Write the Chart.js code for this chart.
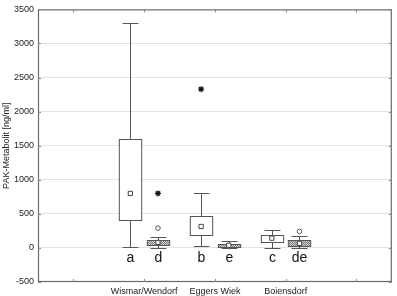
<!DOCTYPE html>
<html>
<head>
<meta charset="utf-8">
<script src="https://cdn.jsdelivr.net/npm/chart.js@4"></script>
<style>
  body { margin: 0; background: #fff; }
  canvas { display: block; }
</style>
</head>
<body>
<canvas id="boxChart" width="397" height="296"></canvas>
<script>
// sites along the x axis (slots 1 and 5 stay empty)
const groupLabels = ['Wismar/Wendorf', 'Eggers Wiek', 'Boiensdorf'];

// one entry per box, left box = plain, right box = hatched
const boxLetters = ['a', 'd', 'b', 'e', 'c', 'de'];
const boxGroup = [0, 0, 1, 1, 2, 2];
const boxHatched = [false, true, false, true, false, true];
const whiskerLow = [20, 0, 30, 0, 5, 0];
const q1 = [410, 43, 190, 14, 90, 34];
const q3 = [1600, 114, 463, 63, 186, 110];
const whiskerHigh = [3300, 165, 810, 100, 267, 181];
const means = [800, 80, 315, 39, 143, 67];

// outliers: box index + value
const circleBox = [1, 5];
const circleValue = [290, 243];
const starBox = [1, 2];
const starValue = [800, 2330];

const yTicks = [-500, 0, 500, 1000, 1500, 2000, 2500, 3000, 3500];

// x position of a box in axis units
function boxX(i) {
    return boxGroup[i] + 2 + (boxHatched[i] ? 0.195 : -0.195);
}

// grey checker pattern for the hatched boxes
function makePattern(ctx) {
    const c = document.createElement('canvas');
    c.width = 2;
    c.height = 2;
    const p = c.getContext('2d');
    p.fillStyle = '#d4d4d4';
    p.fillRect(0, 0, 2, 2);
    p.fillStyle = '#7a7a7a';
    p.fillRect(0, 0, 1, 1);
    p.fillRect(1, 1, 1, 1);
    return ctx.createPattern(c, 'repeat');
}

const boxPlugin = {
    id: 'boxes',
    beforeDatasetsDraw(chart) {
        const { ctx, scales: { x, y }, chartArea } = chart;
        const unit = x.getPixelForValue(1) - x.getPixelForValue(0);
        const half = unit * 0.158;
        const cap = unit * 0.112;
        const pattern = makePattern(ctx);

        ctx.save();
        // frame
        ctx.strokeStyle = '#6a6a6a';
        ctx.lineWidth = 1.2;
        ctx.strokeRect(chartArea.left + 0.5, chartArea.top + 0.5,
            chartArea.right - chartArea.left - 1, chartArea.bottom - chartArea.top - 1);

        // small inward tick marks
        ctx.strokeStyle = '#888';
        ctx.lineWidth = 1;
        ctx.beginPath();
        for (let v = 1; v <= 5; v++) {
            const px = Math.round(x.getPixelForValue(v)) + 0.5;
            ctx.moveTo(px, chartArea.top);
            ctx.lineTo(px, chartArea.top + 3);
            ctx.moveTo(px, chartArea.bottom);
            ctx.lineTo(px, chartArea.bottom - 3);
        }
        yTicks.forEach(v => {
            const py = Math.round(y.getPixelForValue(v)) + 0.5;
            ctx.moveTo(chartArea.left, py);
            ctx.lineTo(chartArea.left + 3, py);
            ctx.moveTo(chartArea.right, py);
            ctx.lineTo(chartArea.right - 3, py);
        });
        ctx.stroke();

        // boxes and whiskers
        ctx.strokeStyle = '#555';
        ctx.lineWidth = 1;
        boxLetters.forEach((letter, i) => {
            const cx = Math.round(x.getPixelForValue(boxX(i))) + 0.5;
            const yLo = Math.round(y.getPixelForValue(whiskerLow[i])) + 0.5;
            const yHi = Math.round(y.getPixelForValue(whiskerHigh[i])) + 0.5;
            const yQ1 = Math.round(y.getPixelForValue(q1[i])) + 0.5;
            const yQ3 = Math.round(y.getPixelForValue(q3[i])) + 0.5;

            ctx.beginPath();
            ctx.moveTo(cx, yHi);
            ctx.lineTo(cx, yQ3);
            ctx.moveTo(cx, yQ1);
            ctx.lineTo(cx, yLo);
            ctx.moveTo(cx - cap, yHi);
            ctx.lineTo(cx + cap, yHi);
            ctx.moveTo(cx - cap, yLo);
            ctx.lineTo(cx + cap, yLo);
            ctx.stroke();

            ctx.fillStyle = boxHatched[i] ? pattern : '#fff';
            ctx.fillRect(cx - half, yQ3, half * 2, yQ1 - yQ3);
            ctx.strokeRect(cx - half, yQ3, half * 2, yQ1 - yQ3);

            // letter under the box
            ctx.fillStyle = '#111';
            ctx.font = '14px "Liberation Sans", Arial, sans-serif';
            ctx.textAlign = 'center';
            ctx.textBaseline = 'middle';
            ctx.fillText(letter, cx, y.getPixelForValue(-150));
        });
        ctx.restore();
    }
};

const meanPoints = boxLetters.map((l, i) => ({ x: boxX(i), y: means[i] }));
const circlePoints = circleBox.map((b, i) => ({ x: boxX(b), y: circleValue[i] }));
const starPoints = starBox.map((b, i) => ({ x: boxX(b), y: starValue[i] }));

const fontFamily = '"Liberation Sans", Arial, sans-serif';

new Chart(document.getElementById('boxChart'), {
    type: 'scatter',
    data: {
        datasets: [
            {
                label: 'Mittelwert',
                data: meanPoints,
                pointStyle: 'rect',
                pointRadius: 3,
                backgroundColor: '#fff',
                borderColor: '#444',
                borderWidth: 1
            },
            {
                label: 'Ausreißer',
                data: circlePoints,
                pointStyle: 'circle',
                pointRadius: 2.3,
                backgroundColor: '#fff',
                borderColor: '#555',
                borderWidth: 1
            },
            {
                label: 'Extremwert',
                data: starPoints,
                pointStyle: 'star',
                pointRadius: 3,
                backgroundColor: '#111',
                borderColor: '#111',
                borderWidth: 1.2
            }
        ]
    },
    options: {
        responsive: false,
        devicePixelRatio: 1,
        animation: false,
        layout: { padding: { top: 3, right: 1, left: 0, bottom: 0 } },
        plugins: {
            legend: { display: false },
            tooltip: { enabled: false }
        },
        scales: {
            x: {
                type: 'linear',
                min: 0.5,
                max: 5.5,
                afterFit: scale => { scale.height = 14; },
                afterBuildTicks: scale => {
                    scale.ticks = [1, 2, 3, 4, 5].map(v => ({ value: v }));
                },
                ticks: {
                    padding: 4,
                    autoSkip: false,
                    maxRotation: 0,
                    color: '#222',
                    font: { family: fontFamily, size: 9 },
                    callback: v => groupLabels[v - 2] || ''
                },
                grid: { display: false, drawTicks: false },
                border: { display: false }
            },
            y: {
                min: -500,
                max: 3500,
                afterFit: scale => { scale.width = 38; },
                ticks: {
                    stepSize: 500,
                    padding: 4,
                    color: '#222',
                    font: { family: fontFamily, size: 9 },
                    callback: v => String(v)
                },
                grid: {
                    drawTicks: false,
                    color: ctx => (ctx.tick && (ctx.tick.value === -500 || ctx.tick.value === 3500)) ? 'rgba(0,0,0,0)' : '#e2e2e2'
                },
                border: { display: false },
                title: {
                    display: true,
                    text: 'PAK-Metabolit [ng/ml]',
                    color: '#222',
                    font: { family: fontFamily, size: 9 },
                    padding: { top: 1, bottom: 0 }
                }
            }
        }
    },
    plugins: [boxPlugin]
});
</script>
</body>
</html>
